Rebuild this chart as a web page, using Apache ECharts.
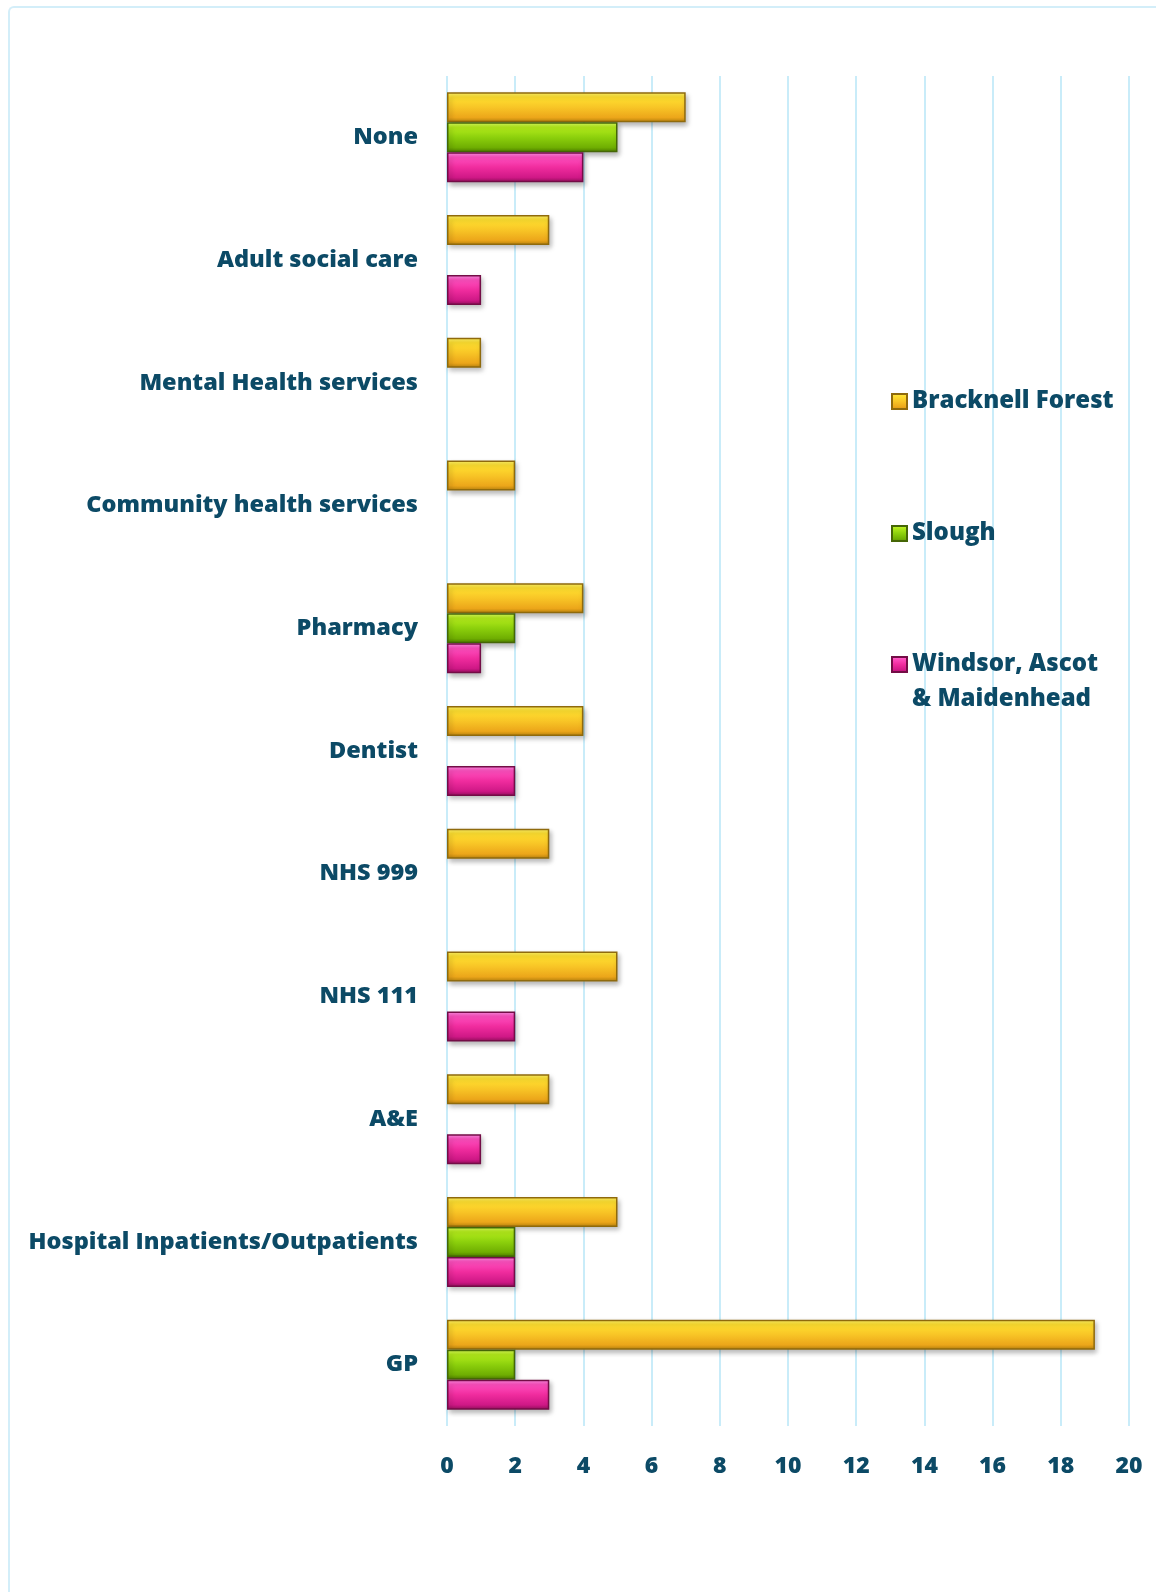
<!DOCTYPE html>
<html>
<head>
<meta charset="utf-8">
<script src="https://cdn.jsdelivr.net/npm/echarts@6/dist/echarts.min.js"></script>
<style>
  html, body { margin: 0; padding: 0; background: #fff; }
  #frame {
    position: absolute; left: 8px; top: 6px; width: 1200px; height: 1700px;
    border-left: 2px solid #d3eef9; border-top: 2px solid #d3eef9;
    border-radius: 6px; box-sizing: border-box;
  }
  #chart { position: absolute; left: 0; top: 0; width: 1156px; height: 1592px; }
</style>
</head>
<body>
<div id="frame"></div>
<div id="chart"></div>
<script>
var categories = ["None", "Adult social care", "Mental Health services", "Community health services",
  "Pharmacy", "Dentist", "NHS 999", "NHS 111", "A&E", "Hospital Inpatients/Outpatients", "GP"];
var bracknell = [7, 3, 1, 2, 4, 4, 3, 5, 3, 5, 19];
var slough = [5, 0, 0, 0, 2, 0, 0, 0, 0, 2, 2];
var windsor = [4, 1, 0, 0, 1, 2, 0, 2, 1, 2, 3];
var ticks = [0, 2, 4, 6, 8, 10, 12, 14, 16, 18, 20];

var textColor = "#0c4a66";
var fontName = "'Open Sans', sans-serif";

// bevel-ish gradient for each bar colour
function grad(c) {
  return new echarts.graphic.LinearGradient(0, 0, 0, 1, [
    { offset: 0, color: c[0] },
    { offset: 0.16, color: c[1] },
    { offset: 0.5, color: c[2] },
    { offset: 0.84, color: c[3] },
    { offset: 1, color: c[4] }
  ]);
}

function makeSeries(name, data, colors, border) {
  return {
    name: name,
    type: "bar",
    data: data.map(function (v) { return v === 0 ? null : v; }),
    barWidth: 30,
    barGap: "0%",
    itemStyle: {
      color: grad(colors),
      borderColor: border,
      borderWidth: 1.5,
      shadowColor: "rgba(0,0,0,0.28)",
      shadowBlur: 5,
      shadowOffsetX: 2,
      shadowOffsetY: 3
    }
  };
}

// one legend per series so each can sit where the original has it
function legendItem(name, top) {
  return {
    data: [name],
    orient: "vertical",
    left: 886,
    top: top,
    itemWidth: 15,
    itemHeight: 15,
    icon: "rect",
    textStyle: { color: textColor, fontFamily: fontName, fontWeight: 800, fontSize: 24, lineHeight: 35 },
    formatter: function (n) {
      // blank first line keeps the icon level with "Windsor, Ascot"
      return n === "Windsor, Ascot & Maidenhead" ? " \nWindsor, Ascot\n& Maidenhead" : n;
    }
  };
}

var chart = echarts.init(document.getElementById("chart"));
var option = {
  animation: false,
  grid: { left: 447, right: 27, top: 76, bottom: 166 },
  legend: [
    legendItem("Bracknell Forest", 379),
    legendItem("Slough", 511),
    legendItem("Windsor, Ascot & Maidenhead", 607)
  ],
  xAxis: {
    type: "value",
    min: 0,
    max: 20,
    interval: 2,
    axisLine: { show: false },
    axisTick: { show: false },
    splitLine: { lineStyle: { color: "#c9ecf9", width: 2 } },
    axisLabel: {
      color: textColor, fontFamily: fontName, fontWeight: 800, fontSize: 23, margin: 29,
      formatter: function (v) { return ticks.indexOf(v) >= 0 ? String(v) : ""; }
    }
  },
  yAxis: {
    type: "category",
    data: categories,
    inverse: true,
    axisLine: { show: false },
    axisTick: { show: false },
    axisLabel: { color: textColor, fontFamily: fontName, fontWeight: 800, fontSize: 23.5, margin: 29 }
  },
  series: [
    makeSeries("Bracknell Forest", bracknell, ["#fff36a", "#ffe030", "#f8c526", "#eca61a", "#b8820e"], "#8f6a0c"),
    makeSeries("Slough", slough, ["#dcff60", "#b4ec1c", "#8cd00c", "#6fae02", "#4e7c00"], "#456606"),
    makeSeries("Windsor, Ascot & Maidenhead", windsor, ["#ff90e6", "#ff50c0", "#f02c9e", "#cf1886", "#94105c"], "#730d46")
  ]
};
chart.setOption(option);
</script>
</body>
</html>
